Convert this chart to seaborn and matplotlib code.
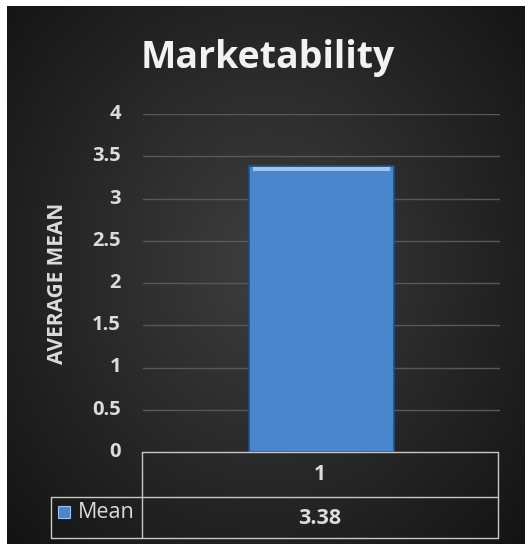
import matplotlib
matplotlib.use("Agg")
import matplotlib.pyplot as plt
import numpy as np
import pandas as pd
import seaborn as sns

# chart data
categories = ["1"]
mean_values = [3.38]
series_name = "Mean"
y_ticks = [0, 0.5, 1, 1.5, 2, 2.5, 3, 3.5, 4]
y_tick_labels = ["0", "0.5", "1", "1.5", "2", "2.5", "3", "3.5", "4"]

W, H = 531, 546

sns.set_theme(style="dark")
plt.rcParams['font.family'] = ['Open Sans', 'DejaVu Sans']

fig = plt.figure(figsize=(W / 100, H / 100), dpi=100, facecolor="white")

# dark radial-gradient background panel
bg = fig.add_axes([7 / W, 2 / H, (525 - 7) / W, (540 - 2) / H])
yy, xx = np.mgrid[-1:1:300j, -1:1:300j]
rr = np.sqrt((xx * 0.95) ** 2 + ((yy + 0.05) * 0.85) ** 2)
shade = np.clip(0.245 - 0.13 * rr, 0.02, 0.25)
bg.imshow(np.dstack([shade, shade, shade]), aspect="auto", extent=[0, 1, 0, 1])
bg.set_axis_off()

# main plot area
x0, x1, y0, y1 = 143, 500, 114, 452
ax = fig.add_axes([x0 / W, 1 - y1 / H, (x1 - x0) / W, (y1 - y0) / H])
ax.patch.set_alpha(0)

df = pd.DataFrame({"category": categories, "value": mean_values})
sns.barplot(data=df, x="category", y="value", ax=ax, width=0.406,
            color="#4a86cc", saturation=1, edgecolor="#1f4f86", linewidth=1.2)
for bar in ax.patches:
    bx, bw, bh = bar.get_x(), bar.get_width(), bar.get_height()
    # bevel highlight along top of bar
    ax.fill_between([bx + 0.012, bx + bw - 0.012], bh - 0.06, bh - 0.005,
                    color="#a9cdf0", alpha=0.9, linewidth=0, zorder=3)

ax.set_xlim(-0.5, 0.5)
ax.set_ylim(0, 4)
ax.set_yticks(y_ticks)
ax.set_yticklabels([])
for v in y_ticks[1:]:
    ax.axhline(v, color="#585858", linewidth=1, zorder=0)
ax.set_xticks([])
ax.set_xlabel("")
ax.set_ylabel("")
for s in ax.spines.values():
    s.set_visible(False)

def fx(px):
    return px / W

def fy(py):
    return 1 - py / H

txt_col = "#dcdcdc"
# y tick labels
for v, lab in zip(y_ticks, y_tick_labels):
    py = y1 - (y1 - y0) * v / 4
    fig.text(fx(121), fy(py), lab, ha="right", va="center", color=txt_col,
             fontsize=14.5, fontweight="bold")

fig.text(fx(58), fy(283), "AVERAGE MEAN", rotation=90, ha="center", va="center",
         color=txt_col, fontsize=15, fontweight="bold")

fig.text(fx(268), fy(58), "Marketability", ha="center", va="center",
         color="#f2f2f2", fontsize=27, fontweight="bold")

# data table under the axis
line_col = "#c8c8c8"
tx0, tx1 = 142, 498
lx0 = 51
r0, r1, r2 = 452, 497, 538
lines = [
    ([tx0, tx1], [r0, r0]),
    ([tx0, tx0], [r0, r2]),
    ([tx1, tx1], [r0, r2]),
    ([lx0, tx1], [r1, r1]),
    ([lx0, tx1], [r2, r2]),
    ([lx0, lx0], [r1, r2]),
]
for xs, ys in lines:
    fig.add_artist(plt.Line2D([fx(xs[0]), fx(xs[1])], [fy(ys[0]), fy(ys[1])],
                              color=line_col, linewidth=1, transform=fig.transFigure))

fig.text(fx((tx0 + tx1) / 2), fy((r0 + r1) / 2), categories[0], ha="center",
         va="center", color=txt_col, fontsize=15, fontweight="bold")
fig.text(fx((tx0 + tx1) / 2), fy((r1 + r2) / 2 + 1), f"{mean_values[0]:.2f}",
         ha="center", va="center", color=txt_col, fontsize=15.5, fontweight="bold")

# legend key in the table
key = plt.Rectangle((fx(58), fy(518)), 12 / W, 12 / H, transform=fig.transFigure,
                    facecolor="#4a86cc", edgecolor="#9cc3ee", linewidth=0.8)
fig.add_artist(key)
fig.text(fx(78), fy(512), series_name, ha="left", va="center", color=txt_col,
         fontsize=15.5)

fig.savefig("out.png", dpi=100, facecolor="white")
